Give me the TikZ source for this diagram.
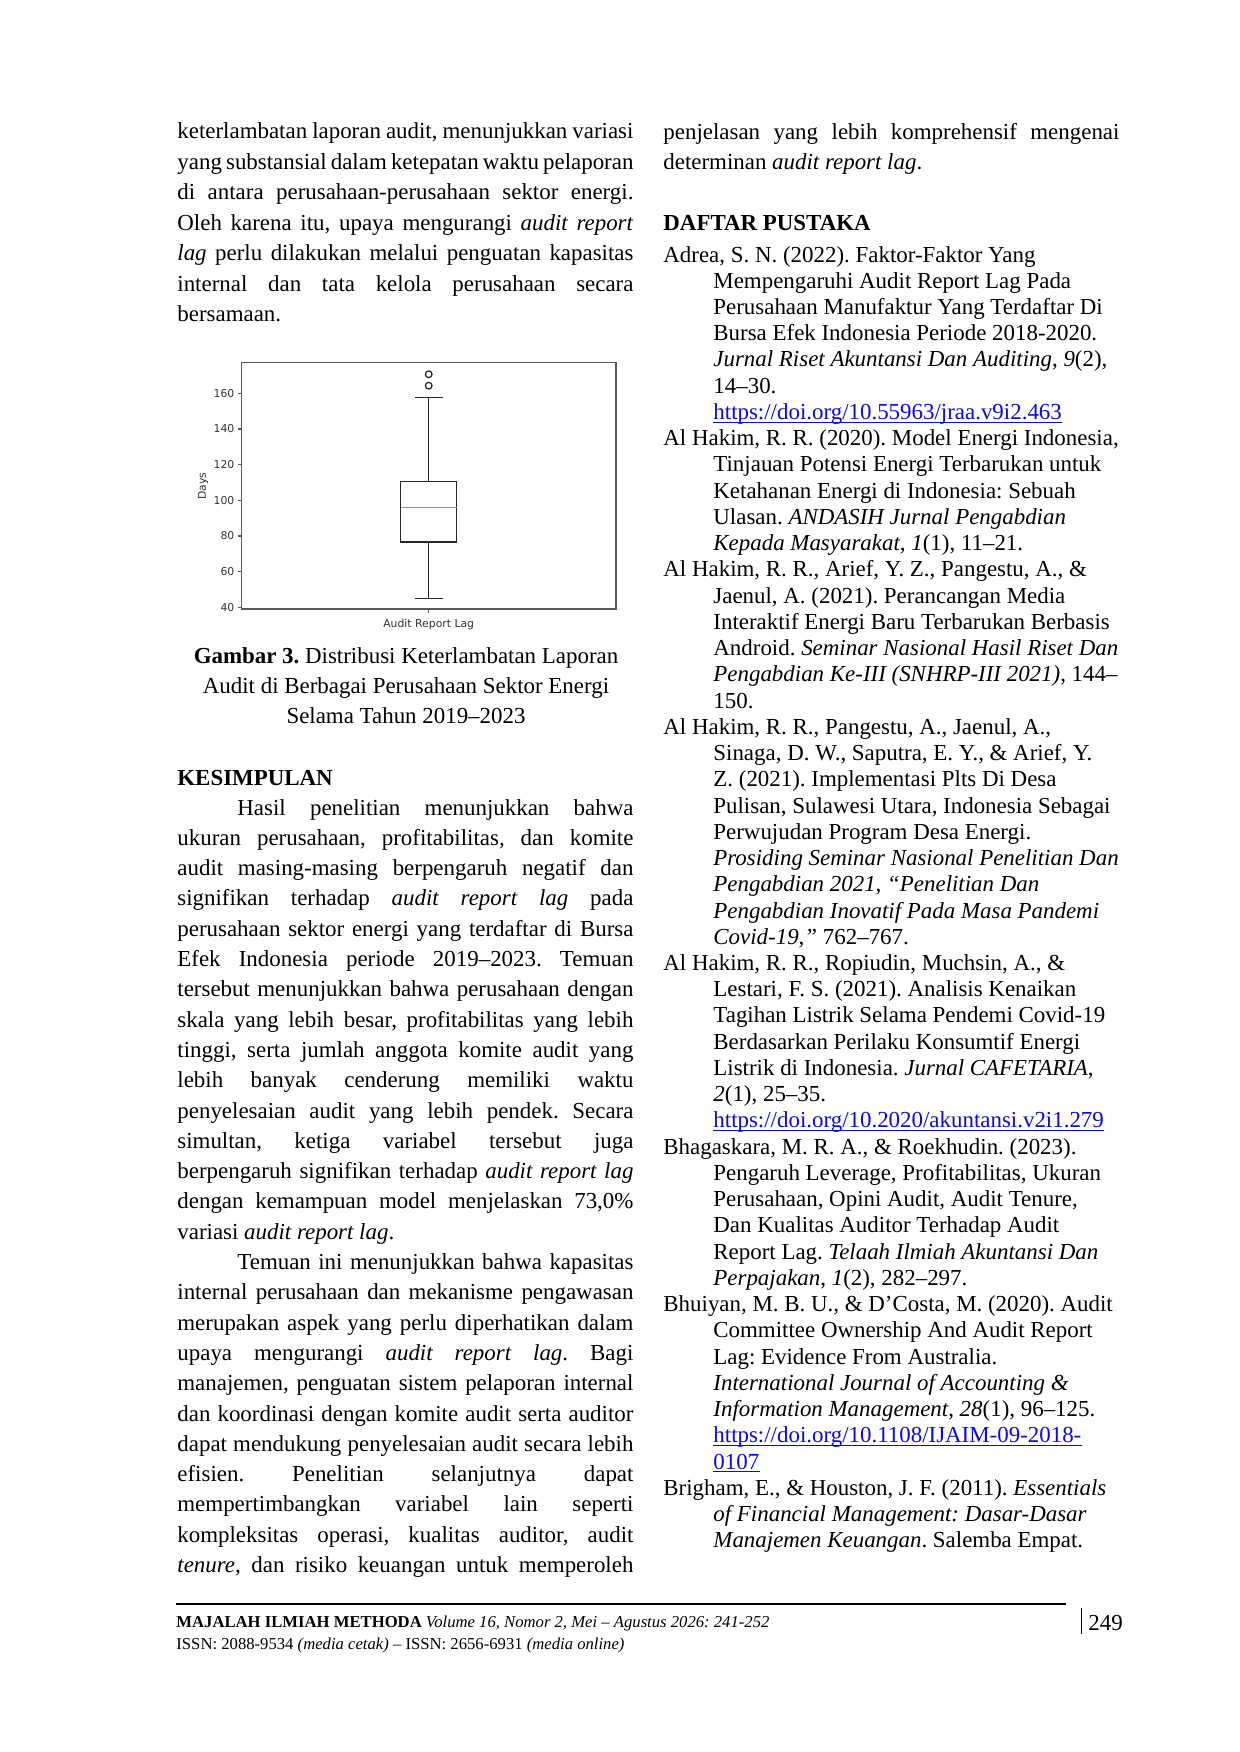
\documentclass[tikz,border=0pt]{standalone}
\usepackage{fontspec}
\setmainfont{Liberation Serif}
\newfontfamily\plotfont{DejaVu Sans}
\frenchspacing

\definecolor{linkblue}{RGB}{10,10,230}
\definecolor{medorange}{RGB}{255,127,14}

\newcommand{\body}{\fontsize{11}{13}\selectfont\frenchspacing}
\newcommand{\jl}[1]{\makebox[218.9pt][s]{#1}}
\newcommand{\jlind}[1]{\makebox[190.1pt][s]{#1}}

\begin{document}
\begin{tikzpicture}[
		x=0.48pt, y=-0.48pt,
		txt/.style={anchor=base west, inner sep=0pt, font=\body},
		ctr/.style={anchor=base, inner sep=0pt, font=\body},
		head/.style={txt, font=\body\bfseries},
		link/.style={txt, text=linkblue},
		uline/.style={linkblue, line width=0.5pt},
		foot/.style={txt, font=\fontsize{8}{9}\selectfont\frenchspacing},
		frame/.style={black!65, line width=0.5pt},
		boxln/.style={black!85, line width=0.6pt},
		tick/.style={inner sep=0pt, text=black!80, font=\plotfont\fontsize{5.2}{6}\selectfont},
		declare function={py(\v)=607.3-(\v-40)*1.783;}
	]
		\useasboundingbox[fill=white] (0,0) rectangle (1240,1752);

		%left column, end of paragraph
		\foreach \k/\txt in {
			0/{keterlambatan laporan audit, menunjukkan variasi},
			1/{yang substansial dalam ketepatan waktu pelaporan},
			2/{di antara perusahaan-perusahaan sektor energi.},
			3/{Oleh karena itu, upaya mengurangi \textit{audit report}},
			4/{\textit{lag} perlu dilakukan melalui penguatan kapasitas},
			5/{internal dan tata kelola perusahaan secara}}
			\node[txt] (p\k) at (177,{139+\k*30.4}) {\jl{\txt}};
		\node[txt] (p6) at (177,{139+6*30.4}) {bersamaan.};

		%boxplot
		\draw[frame] (241.7,362.7) rectangle (616,609);
		\foreach \v in {40,60,...,160}
			\draw[frame] (241.7,{py(\v)}) -- ++(-3.5,0) node[tick, anchor=east, xshift=-1.6pt] (y\v) {\v};
		\draw[frame] (428.7,609) -- ++(0,3.5);
		\node[tick, anchor=base] (xlab) at (428.7,627) {Audit Report Lag};
		\node[tick, rotate=90] (ylab) at (203,486) {Days};
		\draw[boxln] (400.7,{py(110.4)}) rectangle (456.7,{py(76.6)});
		\draw[boxln] (428.7,{py(110.4)}) -- (428.7,{py(157.8)});
		\draw[boxln] (428.7,{py(76.6)}) -- (428.7,{py(44.8)});
		\draw[boxln] (414.7,{py(157.8)}) -- (442.7,{py(157.8)});
		\draw[boxln] (414.7,{py(44.8)}) -- (442.7,{py(44.8)});
		\draw[medorange, line width=0.6pt] (400.7,{py(96.1)}) -- (456.7,{py(96.1)});
		\foreach \o in {164.3,170.7}
			\draw[boxln] (428.7,{py(\o)}) circle[radius=1.6pt];

		%caption
		\node[ctr] (cap1) at (406,663) {\textbf{Gambar 3.} Distribusi Keterlambatan Laporan};
		\node[ctr] (cap2) at (406,693) {Audit di Berbagai Perusahaan Sektor Energi};
		\node[ctr] (cap3) at (406,723) {Selama Tahun 2019–2023};

		%kesimpulan
		\node[head] (kes) at (177,785) {KESIMPULAN};
		\node[txt] (c0) at (237,815) {\jlind{Hasil penelitian menunjukkan bahwa}};
		\foreach \k/\txt in {
			1/{ukuran perusahaan, profitabilitas, dan komite},
			2/{audit masing-masing berpengaruh negatif dan},
			3/{signifikan terhadap \textit{audit report lag} pada},
			4/{perusahaan sektor energi yang terdaftar di Bursa},
			5/{Efek Indonesia periode 2019–2023. Temuan},
			6/{tersebut menunjukkan bahwa perusahaan dengan},
			7/{skala yang lebih besar, profitabilitas yang lebih},
			8/{tinggi, serta jumlah anggota komite audit yang},
			9/{lebih banyak cenderung memiliki waktu},
			10/{penyelesaian audit yang lebih pendek. Secara},
			11/{simultan, ketiga variabel tersebut juga},
			12/{berpengaruh signifikan terhadap \textit{audit report lag}},
			13/{dengan kemampuan model menjelaskan 73,0\%},
			16/{internal perusahaan dan mekanisme pengawasan},
			17/{merupakan aspek yang perlu diperhatikan dalam},
			18/{upaya mengurangi \textit{audit report lag}. Bagi},
			19/{manajemen, penguatan sistem pelaporan internal},
			20/{dan koordinasi dengan komite audit serta auditor},
			21/{dapat mendukung penyelesaian audit secara lebih},
			22/{efisien. Penelitian selanjutnya dapat},
			23/{mempertimbangkan variabel lain seperti},
			24/{kompleksitas operasi, kualitas auditor, audit},
			25/{\textit{tenure}, dan risiko keuangan untuk memperoleh}}
			\node[txt] (c\k) at (177,{815+\k*30.3}) {\jl{\txt}};
		\node[txt] (c14) at (177,{815+14*30.3}) {variasi \textit{audit report lag}.};
		\node[txt] (c15) at (237,{815+15*30.3}) {\jlind{Temuan ini menunjukkan bahwa kapasitas}};

		%right column
		\node[txt] (q0) at (663,140) {\jl{penjelasan yang lebih komprehensif mengenai}};
		\node[txt] (q1) at (663,170) {determinan \textit{audit report lag}.};
		\node[head] (dp) at (663,230) {DAFTAR PUSTAKA};

		%references
		\foreach \k/\d/\txt in {
			0/0/{Adrea, S. N. (2022). Faktor-Faktor Yang},
			1/50/{Mempengaruhi Audit Report Lag Pada},
			2/50/{Perusahaan Manufaktur Yang Terdaftar Di},
			3/50/{Bursa Efek Indonesia Periode 2018-2020.},
			4/50/{\textit{Jurnal Riset Akuntansi Dan Auditing}, \textit{9}(2),},
			5/50/{14–30.},
			7/0/{Al Hakim, R. R. (2020). Model Energi Indonesia,},
			8/50/{Tinjauan Potensi Energi Terbarukan untuk},
			9/50/{Ketahanan Energi di Indonesia: Sebuah},
			10/50/{Ulasan. \textit{ANDASIH Jurnal Pengabdian}},
			11/50/{\textit{Kepada Masyarakat}, \textit{1}(1), 11–21.},
			12/0/{Al Hakim, R. R., Arief, Y. Z., Pangestu, A., \&},
			13/50/{Jaenul, A. (2021). Perancangan Media},
			14/50/{Interaktif Energi Baru Terbarukan Berbasis},
			15/50/{Android. \textit{Seminar Nasional Hasil Riset Dan}},
			16/50/{\textit{Pengabdian Ke-III (SNHRP-III 2021)}, 144–},
			17/50/{150.},
			18/0/{Al Hakim, R. R., Pangestu, A., Jaenul, A.,},
			19/50/{Sinaga, D. W., Saputra, E. Y., \& Arief, Y.},
			20/50/{Z. (2021). Implementasi Plts Di Desa},
			21/50/{Pulisan, Sulawesi Utara, Indonesia Sebagai},
			22/50/{Perwujudan Program Desa Energi.},
			23/50/{\textit{Prosiding Seminar Nasional Penelitian Dan}},
			24/50/{\textit{Pengabdian 2021, “Penelitian Dan}},
			25/50/{\textit{Pengabdian Inovatif Pada Masa Pandemi}},
			26/50/{\textit{Covid-19,”} 762–767.},
			27/0/{Al Hakim, R. R., Ropiudin, Muchsin, A., \&},
			28/50/{Lestari, F. S. (2021). Analisis Kenaikan},
			29/50/{Tagihan Listrik Selama Pendemi Covid-19},
			30/50/{Berdasarkan Perilaku Konsumtif Energi},
			31/50/{Listrik di Indonesia. \textit{Jurnal CAFETARIA},},
			32/50/{\textit{2}(1), 25–35.},
			34/0/{Bhagaskara, M. R. A., \& Roekhudin. (2023).},
			35/50/{Pengaruh Leverage, Profitabilitas, Ukuran},
			36/50/{Perusahaan, Opini Audit, Audit Tenure,},
			37/50/{Dan Kualitas Auditor Terhadap Audit},
			38/50/{Report Lag. \textit{Telaah Ilmiah Akuntansi Dan}},
			39/50/{\textit{Perpajakan}, \textit{1}(2), 282–297.},
			40/0/{Bhuiyan, M. B. U., \& D’Costa, M. (2020). Audit},
			41/50/{Committee Ownership And Audit Report},
			42/50/{Lag: Evidence From Australia.},
			43/50/{\textit{International Journal of Accounting \&}},
			44/50/{\textit{Information Management}, \textit{28}(1), 96–125.},
			47/0/{Brigham, E., \& Houston, J. F. (2011). \textit{Essentials}},
			48/50/{\textit{of Financial Management: Dasar-Dasar}},
			49/50/{\textit{Manajemen Keuangan}. Salemba Empat.}}
			\node[txt] (r\k) at ({663+\d},{262+\k*26.24}) {\txt};

		%links
		\node[link] (r6) at (713,{262+6*26.24}) {https://doi.org/10.55963/jraa.v9i2.463};
		\node[link] (r33) at (713,{262+33*26.24}) {https://doi.org/10.2020/akuntansi.v2i1.279};
		\node[link] (r45) at (713,{262+45*26.24}) {https://doi.org/10.1108/IJAIM-09-2018-};
		\node[link] (r46) at (713,{262+46*26.24}) {0107};
		\foreach \n in {r6,r33,r45,r46}
			\draw[uline] ([yshift=-1.3pt]\n.base west) -- ([yshift=-1.3pt]\n.base east);

		%footer
		\draw[line width=1.1pt] (176,1604) -- (1066,1604);
		\node[foot] (f1) at (176,1627) {\textbf{MAJALAH ILMIAH METHODA} \textit{Volume 16, Nomor 2, Mei – Agustus 2026: 241-252}};
		\node[foot] (f2) at (176,1649) {ISSN: 2088-9534 \textit{(media cetak)} – ISSN: 2656-6931 \textit{(media online)}};
		\draw[line width=0.4pt] (1081,1608) -- (1081,1634);
		\node[txt] (pg) at (1088,1630) {249};
	\end{tikzpicture}
\end{document}
